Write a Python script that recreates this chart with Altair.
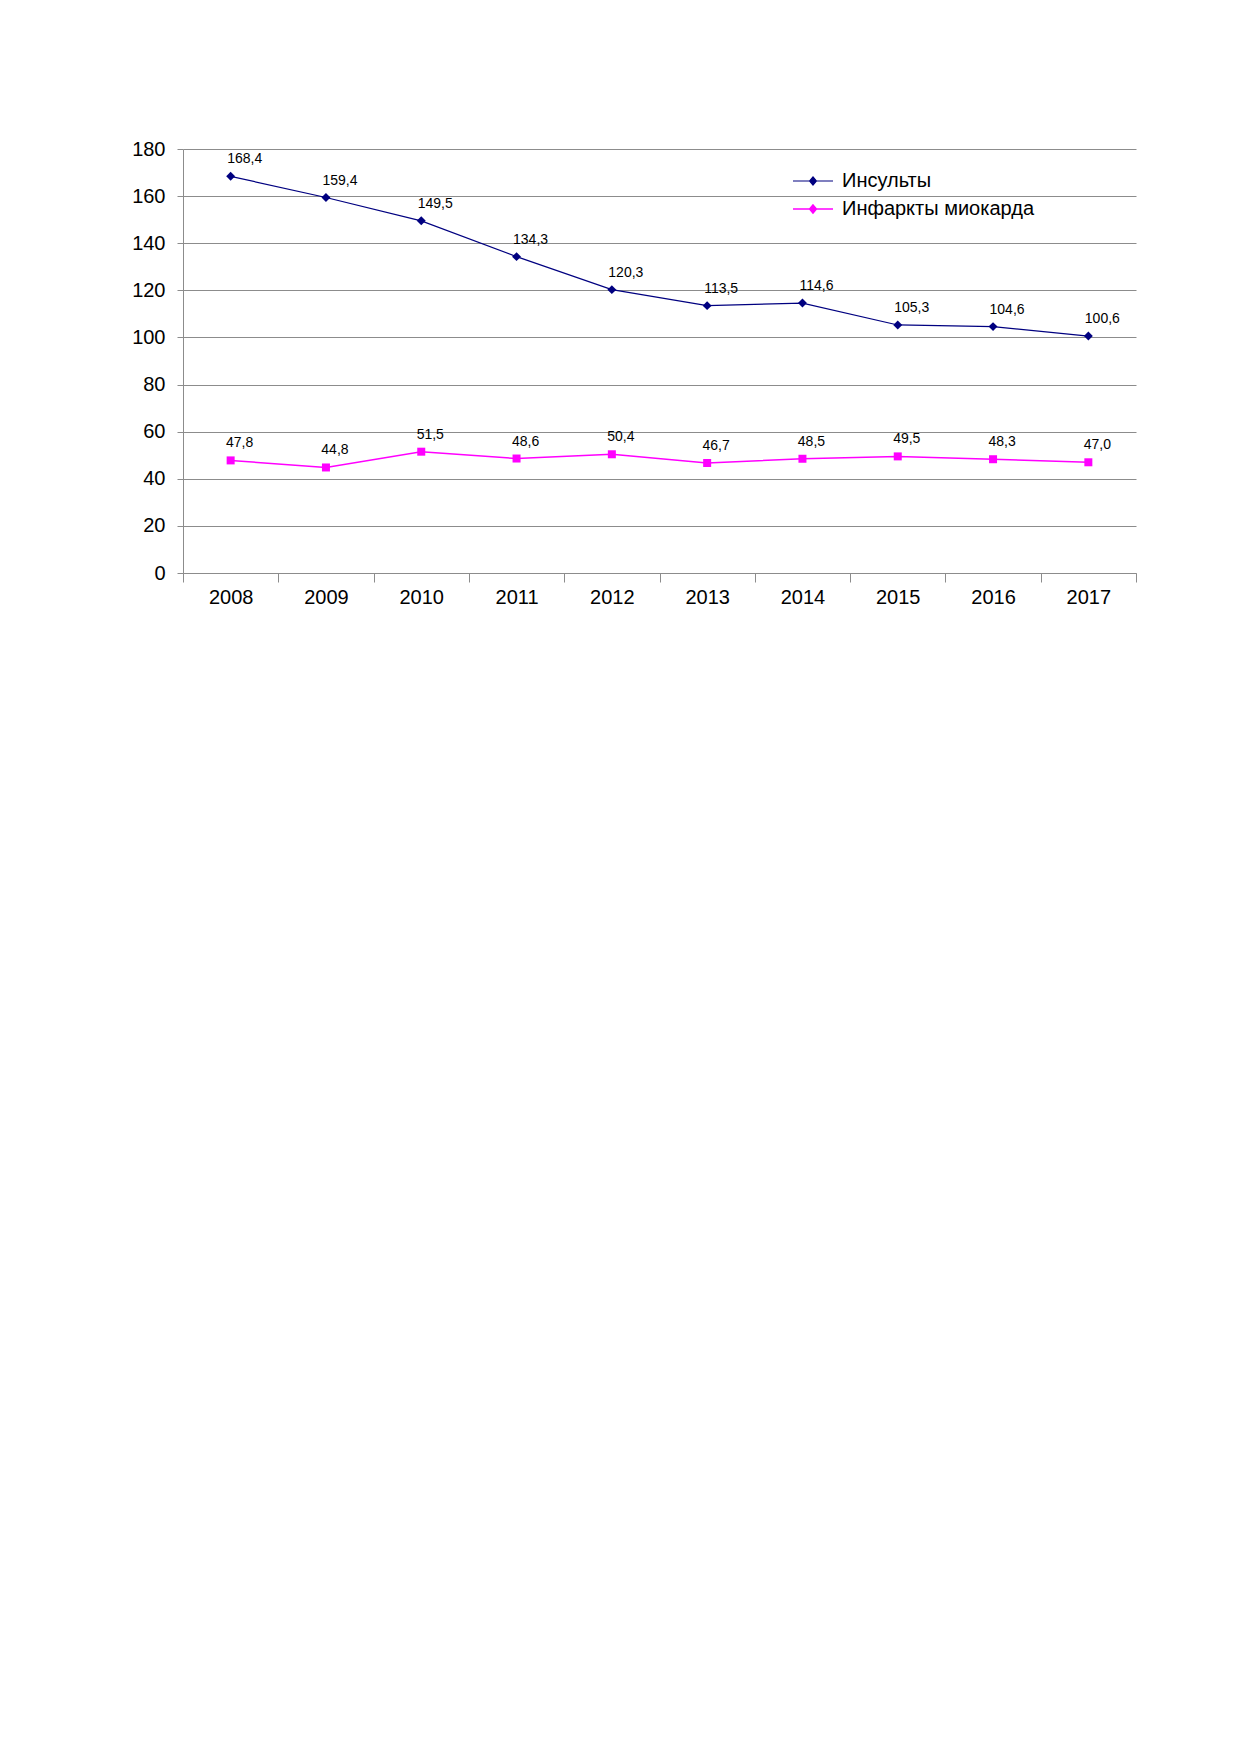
import altair as alt
import pandas as pd

years = ["2008", "2009", "2010", "2011", "2012", "2013", "2014", "2015", "2016", "2017"]
insults = [168.4, 159.4, 149.5, 134.3, 120.3, 113.5, 114.6, 105.3, 104.6, 100.6]
infarcts = [47.8, 44.8, 51.5, 48.6, 50.4, 46.7, 48.5, 49.5, 48.3, 47.0]
series_names = ["Инсульты", "Инфаркты миокарда"]
series_colors = ["#000080", "#FF00FF"]
y_ticks = [0, 20, 40, 60, 80, 100, 120, 140, 160, 180]

FONT = "Liberation Sans"
GRAY = "#8C8C8C"

rows = []
for name, vals in zip(series_names, [insults, infarcts]):
    for yr, v in zip(years, vals):
        rows.append({"year": yr, "series": name, "value": v,
                     "label": f"{v:.1f}".replace(".", ",")})
df = pd.DataFrame(rows)

x = alt.X("year:O",
          scale=alt.Scale(type="band", paddingInner=0, paddingOuter=0),
          axis=alt.Axis(title=None, labelAngle=0, tickBand="extent", tickSize=9,
                        labelFontSize=20, labelFont=FONT, labelColor="black",
                        labelPadding=5, domainColor=GRAY, tickColor=GRAY, grid=False))
y = alt.Y("value:Q",
          scale=alt.Scale(domain=[0, 180], nice=False),
          axis=alt.Axis(title=None, values=y_ticks, grid=True, gridColor=GRAY,
                        gridWidth=1, domainColor=GRAY, tickColor=GRAY, tickSize=6,
                        labelFontSize=20, labelFont=FONT, labelColor="black",
                        labelPadding=12))

# legend symbol: a short line with a marker in its middle
legend_path = "M-7,0H1M-3,-0.8L-2.32,0L-3,0.8L-3.68,0Z"

leg = alt.Legend(title=None, orient="none", legendX=635, legendY=22,
                 symbolType=legend_path, labelFontSize=20, labelFont=FONT,
                 labelLimit=400, rowPadding=8)
color = alt.Color("series:N", scale=alt.Scale(domain=series_names, range=series_colors),
                  legend=leg)

base = alt.Chart(df)

lines = base.mark_line().encode(
    x=x, y=y, color=color,
    strokeWidth=alt.StrokeWidth("series:N",
                                scale=alt.Scale(domain=series_names, range=[1.2, 1.5]),
                                legend=None))

pts_d = base.transform_filter(alt.datum.series == series_names[0]).mark_point(
    shape="diamond", filled=True, size=80, opacity=1).encode(x=x, y=y, color=color)
pts_s = base.transform_filter(alt.datum.series == series_names[1]).mark_point(
    shape="square", filled=True, size=64, opacity=1).encode(x=x, y=y, color=color)

txt1 = base.transform_filter(alt.datum.series == series_names[0]).mark_text(
    fontSize=14, font=FONT, color="black", dx=14, dy=-17).encode(x=x, y=y, text="label:N")
txt2 = base.transform_filter(alt.datum.series == series_names[1]).mark_text(
    fontSize=14, font=FONT, color="black", dx=9, dy=-17).encode(x=x, y=y, text="label:N")

chart = alt.layer(lines, pts_d, pts_s, txt1, txt2).properties(
    width=953, height=424,
    padding={"left": 175, "top": 141, "right": 90, "bottom": 80},
    autosize=alt.AutoSizeParams(type="none"),
    background="white",
).configure_view(stroke=None)

chart.save("out.html", embed_options={"renderer": "svg", "actions": False})
